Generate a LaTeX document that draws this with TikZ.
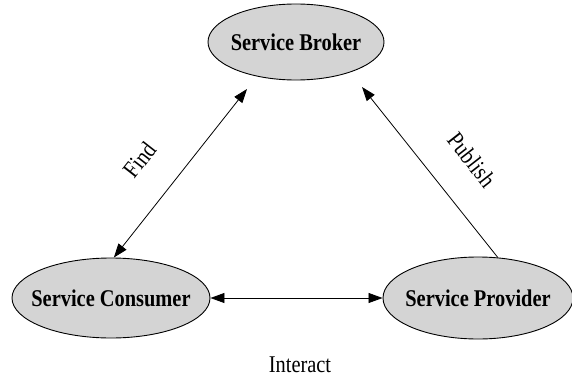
\documentclass[tikz,border=0pt]{standalone}
\usepackage{fontspec}
\setmainfont{Liberation Serif}
\usetikzlibrary{shapes.geometric,arrows.meta}
\definecolor{roleGray}{HTML}{D4D4D4}
% slightly condensed lettering used for every text
\newcommand{\narrowtext}[1]{\scalebox{0.85}[1]{#1}}
\begin{document}
\begin{tikzpicture}[x=1pt,y=-1pt,
  role/.style={ellipse, draw=black, line width=0.9pt, fill=roleGray, inner sep=0pt},
  rolename/.style={font=\bfseries\fontsize{24}{28}\selectfont, inner sep=0pt},
  link/.style={line width=0.8pt, -{Triangle[length=14pt,width=10pt]}},
  duplex/.style={line width=0.8pt, {Triangle[length=14pt,width=10pt]}-{Triangle[length=14pt,width=10pt]}},
  lbl/.style={font=\fontsize{24}{28}\selectfont, inner sep=0pt}]
\useasboundingbox (0,0) rectangle (572,377);

% the three roles
\node[role, minimum width=176pt, minimum height=76pt,
  label={[rolename]center:\narrowtext{Service Broker}}] (broker) at (296,42) {};
\node[role, minimum width=198pt, minimum height=80pt,
  label={[rolename]center:\narrowtext{Service Consumer}}] (consumer) at (111,298) {};
\node[role, minimum width=190pt, minimum height=82pt,
  label={[rolename]center:\narrowtext{Service Provider}}] (provider) at (478,298) {};

% free arrow ends just below the broker
\coordinate (findEnd) at (247,89);
\coordinate (publishEnd) at (362,87);

% connectors
\draw[duplex] (consumer.86) -- (findEnd);
\draw[link] (provider.64) -- (publishEnd);
\draw[duplex] (consumer.east) -- (provider.west);

% labels
\node[lbl, rotate=52] (find) at (140,160) {\narrowtext{Find}};
\node[lbl, rotate=-52] (publish) at (472,160) {\narrowtext{Publish}};
\node[lbl] (interact) at (300,365) {\narrowtext{Interact}};
\end{tikzpicture}
\end{document}
